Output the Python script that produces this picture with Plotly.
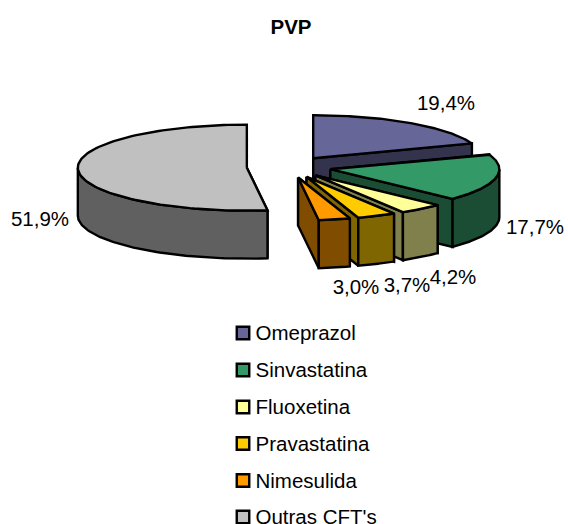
import numpy as np
import plotly.graph_objects as go

labels = ["Omeprazol", "Sinvastatina", "Fluoxetina", "Pravastatina", "Nimesulida", "Outras CFT's"]
values = [19.4, 17.7, 4.2, 3.7, 3.0, 51.9]
top_colors = ["#666699", "#339966", "#FFFF99", "#FFCC00", "#FF9900", "#C0C0C0"]
side_colors = ["#33334D", "#1A4D33", "#80804D", "#806600", "#804D00", "#606060"]

W, H = 568, 524
CX, CY, RX, RY, DEPTH, EXPLODE = 289.0, 167.0, 169.0, 43.0, 48.0, 0.25
FONT = "Liberation Sans, Arial, sans-serif"
FS = 20.5
LABEL_POS = [(446, 105), (535, 229), (453, 279), (407, 287), (356, 289), (40, 221)]
LEGEND_Y = [333, 370, 407, 443.5, 480.5, 517]
LEGEND_TEXT_Y = [335, 372, 409, 445.5, 482.5, 519]

fig = go.Figure()


def poly(xs, ys, color):
    fig.add_trace(go.Scatter(
        x=list(xs) + [xs[0]], y=list(ys) + [ys[0]], mode="lines", fill="toself",
        fillcolor=color, line=dict(color="black", width=2.4),
        hoverinfo="skip", showlegend=False))


def pt(ax, ay, deg):
    t = np.radians(deg)
    return ax + RX * np.sin(t), ay - RY * np.cos(t)


total = sum(values)
edges = np.cumsum([0] + values) / total * 360
order = [0, 5, 1, 2, 3, 4]
for i in order:
    a0, a1 = edges[i], edges[i + 1]
    mid = np.radians((a0 + a1) / 2)
    ax = CX + EXPLODE * RX * np.sin(mid)
    ay = CY - EXPLODE * RY * np.cos(mid)
    # radial walls
    for a in (a0, a1):
        ex, ey = pt(ax, ay, a)
        poly([ax, ex, ex, ax], [ay, ey, ey + DEPTH, ay + DEPTH], side_colors[i])
    # outer wall, the part turned towards the viewer
    lo, hi = max(a0, 90), min(a1, 270)
    if hi > lo:
        th = np.linspace(lo, hi, 80)
        ox, oy = pt(ax, ay, th)
        poly(list(ox) + list(ox[::-1]), list(oy) + list(oy[::-1] + DEPTH), side_colors[i])
    # top face
    th = np.linspace(a0, a1, 120)
    ox, oy = pt(ax, ay, th)
    poly([ax] + list(ox), [ay] + list(oy), top_colors[i])

# percentage labels
fig.add_trace(go.Scatter(
    x=[p[0] for p in LABEL_POS], y=[p[1] for p in LABEL_POS], mode="text",
    text=[f"{v:.1f}%".replace(".", ",") for v in values],
    textposition="middle center",
    textfont=dict(family=FONT, size=FS, color="black"),
    hoverinfo="skip", showlegend=False, cliponaxis=False))

# legend swatches and names
fig.add_trace(go.Scatter(
    x=[243] * len(labels), y=LEGEND_Y, mode="markers",
    marker=dict(symbol="square", size=12.5, color=top_colors, line=dict(color="black", width=2.4)),
    hoverinfo="skip", showlegend=False))
fig.add_trace(go.Scatter(
    x=[255.5] * len(labels), y=LEGEND_TEXT_Y, mode="text", text=labels,
    textposition="middle right",
    textfont=dict(family=FONT, size=FS, color="black"),
    hoverinfo="skip", showlegend=False, cliponaxis=False))

fig.update_layout(
    width=W, height=H, autosize=False, showlegend=False,
    margin=dict(l=0, r=0, t=0, b=0),
    paper_bgcolor="white", plot_bgcolor="white",
    title=dict(text="<b>PVP</b>", x=291 / W, y=1 - 27 / H, xanchor="center", yanchor="middle",
               font=dict(family=FONT, size=FS, color="black")),
    xaxis=dict(range=[0, W], visible=False, fixedrange=True),
    yaxis=dict(range=[H, 0], visible=False, fixedrange=True),
)
fig.write_html("out.html", config={"displayModeBar": False},
               post_script="document.body.style.margin='0';document.documentElement.style.overflow='hidden';")
